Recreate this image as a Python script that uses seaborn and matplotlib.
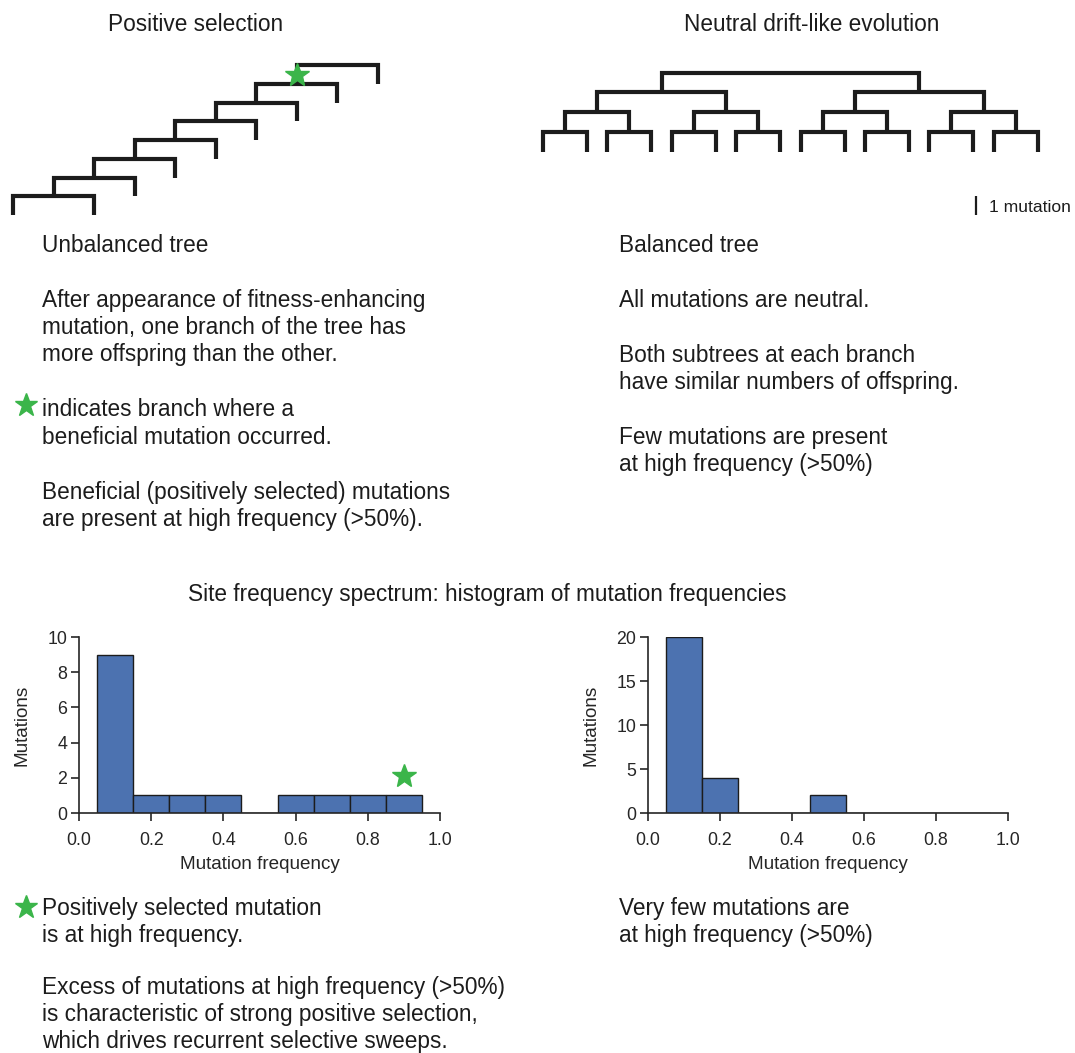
import numpy as np
import pandas as pd
import matplotlib
matplotlib.use("Agg")
import matplotlib.pyplot as plt
import seaborn as sns

# ---------------------------------------------------------------------------
# Site frequency spectra (bins of width 0.1 centred on these frequencies)
bin_centers = [0.1, 0.2, 0.3, 0.4, 0.5, 0.6, 0.7, 0.8, 0.9]
counts_selection = [9, 1, 1, 1, 0, 1, 1, 1, 1]
counts_neutral = [20, 4, 0, 0, 2, 0, 0, 0, 0]

# the beneficial mutation in the selection spectrum
selected_freq = 0.9
selected_marker_height = 2.1

x_ticks = [0.0, 0.2, 0.4, 0.6, 0.8, 1.0]
y_ticks_selection = [0, 2, 4, 6, 8, 10]
y_ticks_neutral = [0, 5, 10, 15, 20]

# Genealogies: every branch carries one mutation
ladder_splits = 8      # caterpillar tree under positive selection
balanced_levels = 4    # balanced tree under neutral drift (2**4 tips)

# ---------------------------------------------------------------------------
titles = ["Positive selection", "Neutral drift-like evolution"]
sfs_title = "Site frequency spectrum: histogram of mutation frequencies"
scale_label = "1 mutation"

left_notes = [
    "Unbalanced tree",
    "",
    "After appearance of fitness-enhancing",
    "mutation, one branch of the tree has",
    "more offspring than the other.",
    "",
    "indicates branch where a",
    "beneficial mutation occurred.",
    "",
    "Beneficial (positively selected) mutations",
    "are present at high frequency (>50%).",
]
right_notes = [
    "Balanced tree",
    "",
    "All mutations are neutral.",
    "",
    "Both subtrees at each branch",
    "have similar numbers of offspring.",
    "",
    "Few mutations are present",
    "at high frequency (>50%)",
]
left_sfs_notes = [
    "Positively selected mutation",
    "is at high frequency.",
]
left_sfs_summary = [
    "Excess of mutations at high frequency (>50%)",
    "is characteristic of strong positive selection,",
    "which drives recurrent selective sweeps.",
]
right_sfs_notes = [
    "Very few mutations are",
    "at high frequency (>50%)",
]

# ---------------------------------------------------------------------------
sns.set_theme(style="ticks")
plt.rcParams["font.family"] = ["Liberation Sans", "DejaVu Sans"]

INK = "#1c1c1c"
GREEN = "#3bb54a"
BLUE = "#4c72b0"
AXIS = "#262626"
BODY = 16.3

W, H = 1075, 1053
fig = plt.figure(figsize=(W / 100, H / 100), dpi=100)

# drawing canvas in pixel units (y grows downward)
canvas = fig.add_axes([0, 0, 1, 1])
canvas.set_xlim(0, W)
canvas.set_ylim(H, 0)
canvas.axis("off")
canvas.patch.set_visible(False)


def bracket(xl, yl, xr, yr, ybar):
    canvas.plot([xl, xl, xr, xr], [yl, ybar, ybar, yr], color=INK, lw=3.0,
                solid_joinstyle="miter", solid_capstyle="butt")


# --- unbalanced (caterpillar) tree -----------------------------------------
unit_l = 18.7
root_y_l = 65.3
span_l = 81.0
child = None
for i in range(ladder_splits):
    ybar = root_y_l + (ladder_splits - 1 - i) * unit_l
    if child is None:
        xl, yl = 13.0, ybar + unit_l
    else:
        xl, yl = child
    xr, yr = xl + span_l, ybar + unit_l
    bracket(xl, yl, xr, yr, ybar)
    child = ((xl + xr) / 2, ybar)
    if i == ladder_splits - 1:
        canvas.plot(xl, ybar + unit_l / 2, marker="*", ms=18, color=GREEN,
                    mec=GREEN, zorder=5)

# --- balanced tree ------------------------------------------------------------
unit_r = 19.7
root_y_r = 72.7
pair_step, pair_width, first_tip = 64.4, 44.0, 543.0


def tip_x(n):
    return first_tip + pair_step * (n // 2) + pair_width * (n % 2)


def draw_clade(lo, hi, level):
    y = root_y_r + (balanced_levels - level) * unit_r
    if hi - lo == 1:
        return tip_x(lo), y
    mid = (lo + hi) // 2
    xl, yl = draw_clade(lo, mid, level - 1)
    xr, yr = draw_clade(mid, hi, level - 1)
    bracket(xl, yl, xr, yr, y)
    return (xl + xr) / 2, y


draw_clade(0, 2 ** balanced_levels, balanced_levels)

# scale bar
canvas.plot([976, 976], [196, 196 + unit_l], color=INK, lw=1.6,
            solid_capstyle="butt")
canvas.text(989, 211.7, scale_label, fontsize=12.6, color=INK, va="baseline")

# --- text ---------------------------------------------------------------------
canvas.text(196, 30.7, titles[0], fontsize=BODY, color=INK, ha="center",
            va="baseline")
canvas.text(812, 30.7, titles[1], fontsize=BODY, color=INK, ha="center",
            va="baseline")
canvas.text(487, 601, sfs_title, fontsize=BODY, color=INK, ha="center",
            va="baseline")

LINE = 27.45


def block(x, y0, lines, step=LINE):
    for k, s in enumerate(lines):
        if s:
            canvas.text(x, y0 + k * step, s, fontsize=BODY, color=INK,
                        va="baseline")


block(42, 251.7, left_notes)
block(619, 251.7, right_notes)
block(42, 915, left_sfs_notes)
block(42, 994, left_sfs_summary, step=26.8)
block(619, 915, right_sfs_notes)

canvas.plot(26, 405, marker="*", ms=17, color=GREEN, mec=GREEN)
canvas.plot(26, 906.5, marker="*", ms=17, color=GREEN, mec=GREEN)

# --- site frequency spectra -------------------------------------------------
half = 0.05
edges = [c - half for c in bin_centers] + [bin_centers[-1] + half]
sfs = pd.DataFrame({
    "freq": bin_centers,
    "selection": counts_selection,
    "neutral": counts_neutral,
})


def spectrum(rect, column, yticks):
    ax = fig.add_axes(rect)
    sns.histplot(data=sfs, x="freq", weights=column, bins=edges, ax=ax,
                 color=BLUE, alpha=1, edgecolor=INK, linewidth=1.0)
    ax.set_xlim(0, 1)
    ax.set_ylim(0, yticks[-1])
    ax.set_xticks(x_ticks)
    ax.set_xticklabels([f"{t:.1f}" for t in x_ticks])
    ax.set_yticks(yticks)
    ax.set_xlabel("Mutation frequency", fontsize=13.6, color=AXIS, labelpad=5)
    ax.set_ylabel("Mutations", fontsize=13.6, color=AXIS, labelpad=12)
    ax.tick_params(length=6, width=1.2, colors=AXIS, labelsize=12.8)
    ax.tick_params(axis="x", pad=8)
    ax.tick_params(axis="y", pad=2.5)
    sns.despine(ax=ax)
    for side in ("left", "bottom"):
        ax.spines[side].set_color(AXIS)
        ax.spines[side].set_linewidth(1.2)
    ax.patch.set_visible(False)
    return ax


ax_sel = spectrum([79 / W, 1 - 813 / H, 361 / W, 176 / H], "selection",
                  y_ticks_selection)
ax_sel.plot(selected_freq, selected_marker_height, marker="*", ms=18,
            color=GREEN, mec=GREEN, clip_on=False)
spectrum([648 / W, 1 - 813 / H, 360 / W, 176 / H], "neutral", y_ticks_neutral)

fig.savefig("out.png", dpi=100)
